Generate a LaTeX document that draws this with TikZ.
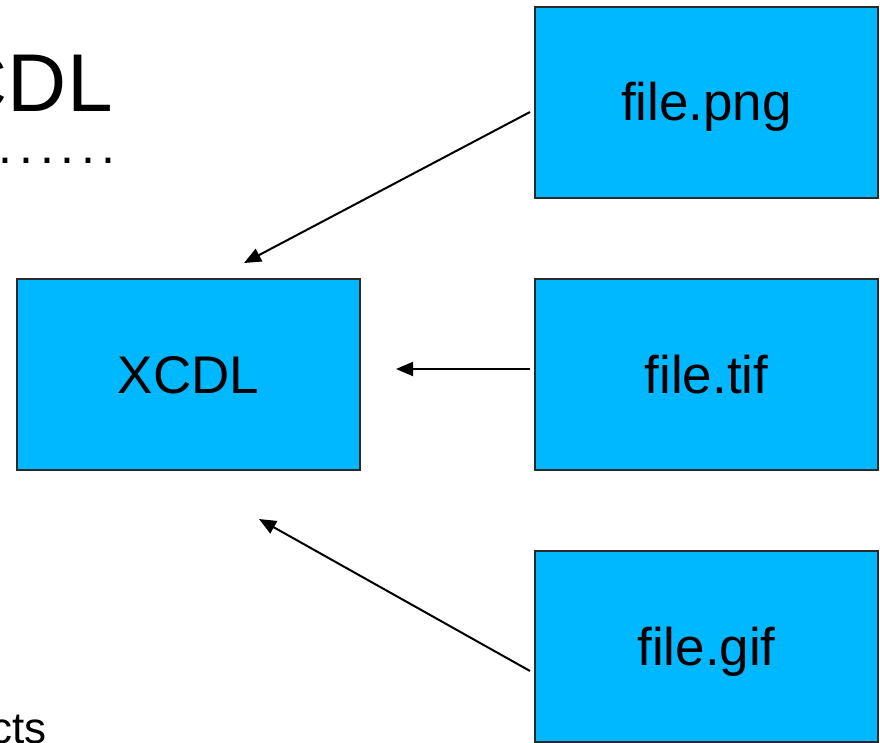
\documentclass[tikz,border=0pt]{standalone}
\usepackage{fontspec}
\setmainfont{Liberation Sans}
\usetikzlibrary{arrows.meta}
\definecolor{boxblue}{HTML}{00B8FF}
\definecolor{boxline}{HTML}{2A2A2A}
\begin{document}
\begin{tikzpicture}[x=1pt,y=-1pt,
  filebox/.style={draw=boxline,line width=1.5pt,fill=boxblue,minimum width=343pt,minimum height=191pt,inner sep=0pt,text height=37pt,text depth=0pt,font=\fontsize{53}{60}\selectfont},
  conn/.style={draw=black,line width=2pt,-{Triangle[length=17pt,width=14pt]}}]
\useasboundingbox (0,0) rectangle (880,743);
\node[filebox] (png) at (706.5,102.5) {file.png};
\node[filebox] (xcdl) at (188.5,374.5) {XCDL};
\node[filebox] (tif) at (706.5,374.5) {file.tif};
\node[filebox] (gif) at (706.5,646.5) {file.gif};
\node[anchor=base east,inner sep=0pt,font=\fontsize{82}{90}\selectfont] (title) at (113,112) {CDL};
\node[anchor=base east,inner sep=0pt,font=\fontsize{50}{56}\selectfont] (dots) at (116,164) {.\kern6.7pt.\kern6.7pt.\kern6.7pt.\kern6.7pt.\kern6.7pt.};
\node[anchor=base east,inner sep=0pt,font=\fontsize{44}{50}\selectfont] (cts) at (47,743) {cts};
\coordinate (s1) at (530,112);
\coordinate (e1) at (244,263);
\coordinate (s2) at (530,369);
\coordinate (e2) at (396,369);
\coordinate (s3) at (530,671);
\coordinate (e3) at (259,519);
\draw[conn] (s1) -- (e1);
\draw[conn] (s2) -- (e2);
\draw[conn] (s3) -- (e3);
\end{tikzpicture}
\end{document}
